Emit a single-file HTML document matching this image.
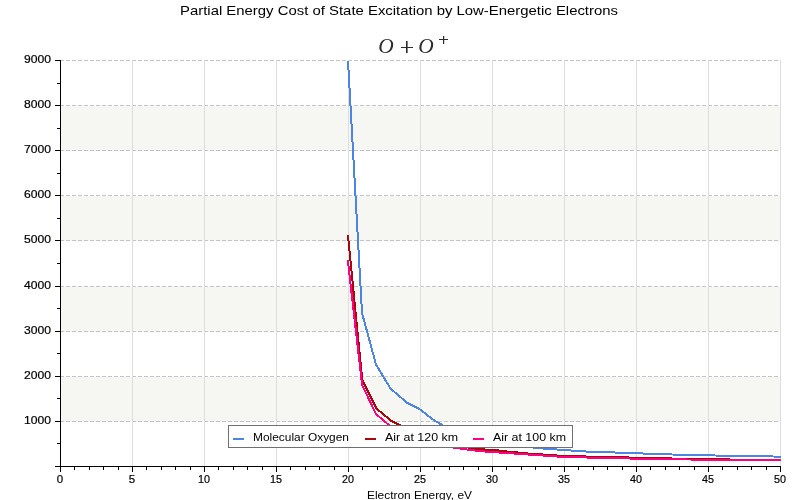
<!DOCTYPE html><html><head><meta charset="utf-8"><style>html,body{margin:0;padding:0;background:#fff;width:800px;height:500px;overflow:hidden}svg{display:block}.gs{will-change:transform}text{font-family:"Liberation Sans",sans-serif;fill:#000;stroke:#000;stroke-width:0.2px}</style></head><body>
<svg class="gs" width="800" height="500" viewBox="0 0 800 500">
<rect width="800" height="500" fill="#fff"/>
<rect x="61" y="377" width="719" height="45" fill="#f6f6f2"/>
<rect x="61" y="287" width="719" height="45" fill="#f6f6f2"/>
<rect x="61" y="196" width="719" height="45" fill="#f6f6f2"/>
<rect x="61" y="106" width="719" height="45" fill="#f6f6f2"/>
<line x1="60" y1="421.5" x2="780" y2="421.5" stroke="#c4c4c4" stroke-width="1" stroke-dasharray="4 2"/>
<line x1="60" y1="376.5" x2="780" y2="376.5" stroke="#c4c4c4" stroke-width="1" stroke-dasharray="4 2"/>
<line x1="60" y1="331.5" x2="780" y2="331.5" stroke="#c4c4c4" stroke-width="1" stroke-dasharray="4 2"/>
<line x1="60" y1="286.5" x2="780" y2="286.5" stroke="#c4c4c4" stroke-width="1" stroke-dasharray="4 2"/>
<line x1="60" y1="240.5" x2="780" y2="240.5" stroke="#c4c4c4" stroke-width="1" stroke-dasharray="4 2"/>
<line x1="60" y1="195.5" x2="780" y2="195.5" stroke="#c4c4c4" stroke-width="1" stroke-dasharray="4 2"/>
<line x1="60" y1="150.5" x2="780" y2="150.5" stroke="#c4c4c4" stroke-width="1" stroke-dasharray="4 2"/>
<line x1="60" y1="105.5" x2="780" y2="105.5" stroke="#c4c4c4" stroke-width="1" stroke-dasharray="4 2"/>
<line x1="60" y1="60.5" x2="780" y2="60.5" stroke="#c4c4c4" stroke-width="1" stroke-dasharray="4 2"/>
<rect x="132" y="60" width="1" height="406" fill="#dedede"/>
<rect x="204" y="60" width="1" height="406" fill="#dedede"/>
<rect x="276" y="60" width="1" height="406" fill="#dedede"/>
<rect x="348" y="60" width="1" height="406" fill="#dedede"/>
<rect x="420" y="60" width="1" height="406" fill="#dedede"/>
<rect x="492" y="60" width="1" height="406" fill="#dedede"/>
<rect x="564" y="60" width="1" height="406" fill="#dedede"/>
<rect x="636" y="60" width="1" height="406" fill="#dedede"/>
<rect x="708" y="60" width="1" height="406" fill="#dedede"/>
<rect x="780" y="60" width="1" height="406" fill="#dedede"/>
<clipPath id="c"><rect x="60" y="61" width="721" height="405"/></clipPath>
<g clip-path="url(#c)">
<polyline points="347.6,53 362,312.8 376,364.5 390.5,388.5 407,402.8 419.5,409.1 434,420.3 448.4,428.6 462.8,435 477.2,439.4 491.6,442.6 506,444.8 520.4,446.2 533,447.5 543,448.5 557,449.5 571,450.5 586,451.5 615,452.5 643,453.5 672,454.5 715,455.5 773,456.5 781,456.6" fill="none" stroke="#4c85e6" stroke-width="2" stroke-linejoin="miter" shape-rendering="crispEdges"/>
<polyline points="347.9,235 362.3,380 376.7,408.7 391.1,420.8 405.5,428 419.9,433.8 434.3,438.1 448.7,442.4 463.1,446 471,448.5 485,449.5 499,450.5 507,451.5 518,452.5 528,453.5 543,454.5 557,455.5 586,456.5 629,457.5 672,458.5 730,459.5 781,459.8" fill="none" stroke="#a8080c" stroke-width="2" stroke-linejoin="miter" shape-rendering="crispEdges"/>
<polyline points="347.8,260 362.1,385 376,414 390.4,426.3 404.8,434.9 419.2,440.7 433.6,444.3 448,446.9 453,447.5 460,448.5 467,449.5 475,450.5 485,451.5 499,452.5 514,453.5 528,454.5 543,455.5 557,456.5 586,457.5 629,458.5 687,459.5 781,459.9" fill="none" stroke="#ff0080" stroke-width="2" stroke-linejoin="miter" shape-rendering="crispEdges"/>
</g>
<rect x="60" y="60" width="1" height="412" fill="#000"/>
<rect x="55" y="466" width="726" height="1" fill="#000"/>
<rect x="55" y="466" width="5" height="1" fill="#000"/>
<rect x="57" y="443" width="3" height="1" fill="#000"/>
<rect x="55" y="421" width="5" height="1" fill="#000"/>
<rect x="57" y="398" width="3" height="1" fill="#000"/>
<rect x="55" y="376" width="5" height="1" fill="#000"/>
<rect x="57" y="353" width="3" height="1" fill="#000"/>
<rect x="55" y="331" width="5" height="1" fill="#000"/>
<rect x="57" y="308" width="3" height="1" fill="#000"/>
<rect x="55" y="286" width="5" height="1" fill="#000"/>
<rect x="57" y="263" width="3" height="1" fill="#000"/>
<rect x="55" y="240" width="5" height="1" fill="#000"/>
<rect x="57" y="218" width="3" height="1" fill="#000"/>
<rect x="55" y="195" width="5" height="1" fill="#000"/>
<rect x="57" y="173" width="3" height="1" fill="#000"/>
<rect x="55" y="150" width="5" height="1" fill="#000"/>
<rect x="57" y="128" width="3" height="1" fill="#000"/>
<rect x="55" y="105" width="5" height="1" fill="#000"/>
<rect x="57" y="83" width="3" height="1" fill="#000"/>
<rect x="55" y="60" width="5" height="1" fill="#000"/>
<rect x="60" y="467" width="1" height="5" fill="#000"/>
<rect x="74" y="467" width="1" height="3" fill="#000"/>
<rect x="89" y="467" width="1" height="3" fill="#000"/>
<rect x="103" y="467" width="1" height="3" fill="#000"/>
<rect x="118" y="467" width="1" height="3" fill="#000"/>
<rect x="132" y="467" width="1" height="5" fill="#000"/>
<rect x="146" y="467" width="1" height="3" fill="#000"/>
<rect x="161" y="467" width="1" height="3" fill="#000"/>
<rect x="175" y="467" width="1" height="3" fill="#000"/>
<rect x="190" y="467" width="1" height="3" fill="#000"/>
<rect x="204" y="467" width="1" height="5" fill="#000"/>
<rect x="218" y="467" width="1" height="3" fill="#000"/>
<rect x="233" y="467" width="1" height="3" fill="#000"/>
<rect x="247" y="467" width="1" height="3" fill="#000"/>
<rect x="262" y="467" width="1" height="3" fill="#000"/>
<rect x="276" y="467" width="1" height="5" fill="#000"/>
<rect x="290" y="467" width="1" height="3" fill="#000"/>
<rect x="305" y="467" width="1" height="3" fill="#000"/>
<rect x="319" y="467" width="1" height="3" fill="#000"/>
<rect x="334" y="467" width="1" height="3" fill="#000"/>
<rect x="348" y="467" width="1" height="5" fill="#000"/>
<rect x="362" y="467" width="1" height="3" fill="#000"/>
<rect x="377" y="467" width="1" height="3" fill="#000"/>
<rect x="391" y="467" width="1" height="3" fill="#000"/>
<rect x="406" y="467" width="1" height="3" fill="#000"/>
<rect x="420" y="467" width="1" height="5" fill="#000"/>
<rect x="434" y="467" width="1" height="3" fill="#000"/>
<rect x="449" y="467" width="1" height="3" fill="#000"/>
<rect x="463" y="467" width="1" height="3" fill="#000"/>
<rect x="478" y="467" width="1" height="3" fill="#000"/>
<rect x="492" y="467" width="1" height="5" fill="#000"/>
<rect x="506" y="467" width="1" height="3" fill="#000"/>
<rect x="521" y="467" width="1" height="3" fill="#000"/>
<rect x="535" y="467" width="1" height="3" fill="#000"/>
<rect x="550" y="467" width="1" height="3" fill="#000"/>
<rect x="564" y="467" width="1" height="5" fill="#000"/>
<rect x="578" y="467" width="1" height="3" fill="#000"/>
<rect x="593" y="467" width="1" height="3" fill="#000"/>
<rect x="607" y="467" width="1" height="3" fill="#000"/>
<rect x="622" y="467" width="1" height="3" fill="#000"/>
<rect x="636" y="467" width="1" height="5" fill="#000"/>
<rect x="650" y="467" width="1" height="3" fill="#000"/>
<rect x="665" y="467" width="1" height="3" fill="#000"/>
<rect x="679" y="467" width="1" height="3" fill="#000"/>
<rect x="694" y="467" width="1" height="3" fill="#000"/>
<rect x="708" y="467" width="1" height="5" fill="#000"/>
<rect x="722" y="467" width="1" height="3" fill="#000"/>
<rect x="737" y="467" width="1" height="3" fill="#000"/>
<rect x="751" y="467" width="1" height="3" fill="#000"/>
<rect x="766" y="467" width="1" height="3" fill="#000"/>
<rect x="780" y="467" width="1" height="5" fill="#000"/>
<text x="51" y="424" font-size="11.5" text-anchor="end" textLength="27" stroke="#000" stroke-width="0.25" lengthAdjust="spacingAndGlyphs">1000</text>
<text x="51" y="379" font-size="11.5" text-anchor="end" textLength="27" stroke="#000" stroke-width="0.25" lengthAdjust="spacingAndGlyphs">2000</text>
<text x="51" y="334" font-size="11.5" text-anchor="end" textLength="27" stroke="#000" stroke-width="0.25" lengthAdjust="spacingAndGlyphs">3000</text>
<text x="51" y="289" font-size="11.5" text-anchor="end" textLength="27" stroke="#000" stroke-width="0.25" lengthAdjust="spacingAndGlyphs">4000</text>
<text x="51" y="243" font-size="11.5" text-anchor="end" textLength="27" stroke="#000" stroke-width="0.25" lengthAdjust="spacingAndGlyphs">5000</text>
<text x="51" y="198" font-size="11.5" text-anchor="end" textLength="27" stroke="#000" stroke-width="0.25" lengthAdjust="spacingAndGlyphs">6000</text>
<text x="51" y="153" font-size="11.5" text-anchor="end" textLength="27" stroke="#000" stroke-width="0.25" lengthAdjust="spacingAndGlyphs">7000</text>
<text x="51" y="108" font-size="11.5" text-anchor="end" textLength="27" stroke="#000" stroke-width="0.25" lengthAdjust="spacingAndGlyphs">8000</text>
<text x="51" y="63" font-size="11.5" text-anchor="end" textLength="27" stroke="#000" stroke-width="0.25" lengthAdjust="spacingAndGlyphs">9000</text>
<text x="60.0" y="483" font-size="11.5" text-anchor="middle" stroke="#000" stroke-width="0.25">0</text>
<text x="132.0" y="483" font-size="11.5" text-anchor="middle" stroke="#000" stroke-width="0.25">5</text>
<text x="204.0" y="483" font-size="11.5" text-anchor="middle" stroke="#000" stroke-width="0.25" textLength="12.0" lengthAdjust="spacingAndGlyphs">10</text>
<text x="276.0" y="483" font-size="11.5" text-anchor="middle" stroke="#000" stroke-width="0.25" textLength="12.0" lengthAdjust="spacingAndGlyphs">15</text>
<text x="348.0" y="483" font-size="11.5" text-anchor="middle" stroke="#000" stroke-width="0.25" textLength="12.0" lengthAdjust="spacingAndGlyphs">20</text>
<text x="420.0" y="483" font-size="11.5" text-anchor="middle" stroke="#000" stroke-width="0.25" textLength="12.0" lengthAdjust="spacingAndGlyphs">25</text>
<text x="492.0" y="483" font-size="11.5" text-anchor="middle" stroke="#000" stroke-width="0.25" textLength="12.0" lengthAdjust="spacingAndGlyphs">30</text>
<text x="564.0" y="483" font-size="11.5" text-anchor="middle" stroke="#000" stroke-width="0.25" textLength="12.0" lengthAdjust="spacingAndGlyphs">35</text>
<text x="636.0" y="483" font-size="11.5" text-anchor="middle" stroke="#000" stroke-width="0.25" textLength="12.0" lengthAdjust="spacingAndGlyphs">40</text>
<text x="708.0" y="483" font-size="11.5" text-anchor="middle" stroke="#000" stroke-width="0.25" textLength="12.0" lengthAdjust="spacingAndGlyphs">45</text>
<text x="780.0" y="483" font-size="11.5" text-anchor="middle" stroke="#000" stroke-width="0.25" textLength="12.0" lengthAdjust="spacingAndGlyphs">50</text>
<text x="180" y="15" font-size="13" style="stroke:none" textLength="438" lengthAdjust="spacingAndGlyphs">Partial Energy Cost of State Excitation by Low-Energetic Electrons</text>
<text style="stroke:none" x="367" y="499" font-size="11.5" textLength="105" lengthAdjust="spacingAndGlyphs">Electron Energy, eV</text>
<g style="font-family:'Liberation Serif',serif" fill="#2b2b2b">
<text x="378.3" y="53.5" font-size="20" font-style="italic" style="font-family:'Liberation Serif',serif;fill:#2b2b2b;stroke:none" transform="translate(379 0) scale(1.07 1) translate(-379 0)">O</text>
<text x="418.3" y="53.5" font-size="20" font-style="italic" style="font-family:'Liberation Serif',serif;fill:#2b2b2b;stroke:none" transform="translate(419 0) scale(1.07 1) translate(-419 0)">O</text>
</g>
<rect x="401" y="47" width="12" height="1" fill="#2b2b2b"/>
<rect x="406" y="41" width="1.6" height="12" fill="#2b2b2b"/>
<rect x="439" y="39" width="9" height="1" fill="#2b2b2b"/>
<rect x="443" y="36" width="1.2" height="8" fill="#2b2b2b"/>
<rect x="228.5" y="425.5" width="344" height="22" fill="#fff" stroke="#707070" stroke-width="1"/>
<rect x="233" y="438" width="11" height="2" fill="#4c85e6"/>
<rect x="365" y="438" width="11" height="2" fill="#a8080c"/>
<rect x="473" y="438" width="11" height="2" fill="#ff0080"/>
<text style="stroke:none" x="253" y="441" font-size="11.5" textLength="96" lengthAdjust="spacingAndGlyphs">Molecular Oxygen</text>
<text style="stroke:none" x="385" y="441" font-size="11.5" textLength="73" lengthAdjust="spacingAndGlyphs">Air at 120 km</text>
<text style="stroke:none" x="493" y="441" font-size="11.5" textLength="73" lengthAdjust="spacingAndGlyphs">Air at 100 km</text>
</svg></body></html>
